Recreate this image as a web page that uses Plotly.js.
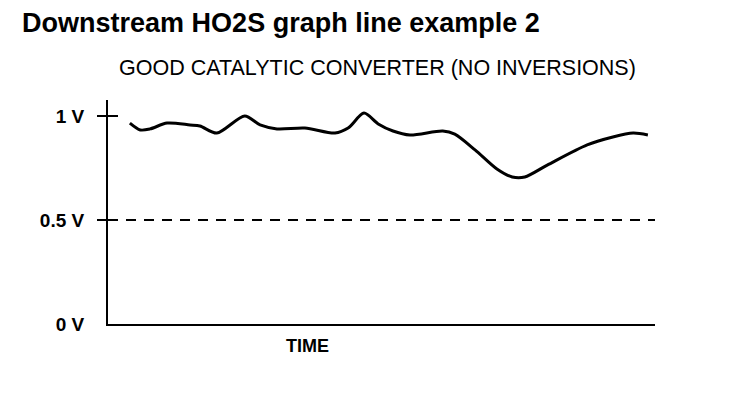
<!DOCTYPE html>
<html>
<head>
<meta charset="utf-8">
<script src="https://cdn.plot.ly/plotly-3.0.1.min.js"></script>
<style>html,body{margin:0;padding:0;background:#fff;}#chart{width:736px;height:406px;}</style>
</head>
<body>
<div id="chart"></div>
<script>
// Time (arbitrary units, 0-100) and downstream HO2S voltage (V)
const time = [4.0, 5.9, 7.7, 10.8, 15.0, 16.8, 19.9, 25.0, 27.8, 30.9, 36.0, 41.5, 43.9, 46.8, 49.4, 52.1, 55.2, 61.2, 63.4, 67.1, 71.1, 73.9, 76.2, 80.3, 87.6, 92.3, 96.0, 98.7];
const voltage = [0.966, 0.933, 0.938, 0.966, 0.957, 0.952, 0.918, 1.0, 0.957, 0.938, 0.942, 0.918, 0.942, 1.014, 0.962, 0.928, 0.909, 0.928, 0.913, 0.837, 0.745, 0.707, 0.707, 0.764, 0.861, 0.899, 0.918, 0.909];
// Switching threshold reference line
const thresholdTime = [0, 100];
const thresholdVolt = [0.5, 0.5];
// Tick labels
const tickValues = [0, 0.5, 1];
const tickLabels = ["0 V", "0.5 V", "1 V"];
const crossTicks = [0.5, 1];

const FONT = "Liberation Sans, Arial, Helvetica, sans-serif";

const traces = [
  {x: thresholdTime, y: thresholdVolt, mode: "lines", line: {color: "#000", width: 2, dash: "10px,8px"}, hoverinfo: "skip"},
  {x: time, y: voltage, mode: "lines", line: {color: "#000", width: 3, shape: "spline", smoothing: 0.8}}
];

const yRange = [0, 1.077];
const layout = {
  width: 736, height: 406,
  margin: {l: 108, r: 81, t: 100, b: 82},
  paper_bgcolor: "#fff", plot_bgcolor: "#fff",
  showlegend: false,
  title: {text: "<b>Downstream HO2S graph line example 2</b>", font: {family: FONT, size: 27, color: "#000"},
          xref: "container", x: 0.03, xanchor: "left", yref: "container", y: 1 - 23/406, yanchor: "middle"},
  xaxis: {range: [0, 100], showline: true, linecolor: "#000", linewidth: 2, showgrid: false, zeroline: false,
          showticklabels: false, ticks: ""},
  yaxis: {range: yRange, showline: true, linecolor: "#000", linewidth: 2, showgrid: false, zeroline: false,
          tickvals: tickValues, ticktext: tickLabels, ticks: "", ticklabelstandoff: 18,
          tickfont: {family: FONT, size: 19, color: "#000", weight: "bold"}},
  yaxis2: {range: yRange, overlaying: "y", side: "left", showgrid: false, zeroline: false, showline: false,
           tickvals: crossTicks, ticks: "outside", ticklen: 10, tickwidth: 2, tickcolor: "#000", showticklabels: false},
  yaxis3: {range: yRange, overlaying: "y", side: "left", showgrid: false, zeroline: false, showline: false,
           tickvals: crossTicks, ticks: "inside", ticklen: 10, tickwidth: 2, tickcolor: "#000", showticklabels: false},
  annotations: [
    {text: "GOOD CATALYTIC CONVERTER (NO INVERSIONS)", xref: "paper", yref: "paper", x: 0.492, y: 1.143,
     xanchor: "center", yanchor: "middle", showarrow: false, font: {family: FONT, size: 21.5, color: "#000"}},
    {text: "<b>TIME</b>", xref: "paper", yref: "paper", x: 0.364, y: -0.098,
     xanchor: "center", yanchor: "middle", showarrow: false, font: {family: FONT, size: 18, color: "#000"}}
  ]
};
// attach tick-only axes via invisible traces
traces.push({x: [null], y: [null], yaxis: "y2", hoverinfo: "skip"});
traces.push({x: [null], y: [null], yaxis: "y3", hoverinfo: "skip"});

Plotly.newPlot("chart", traces, layout, {displayModeBar: false, staticPlot: true});
</script>
</body>
</html>
